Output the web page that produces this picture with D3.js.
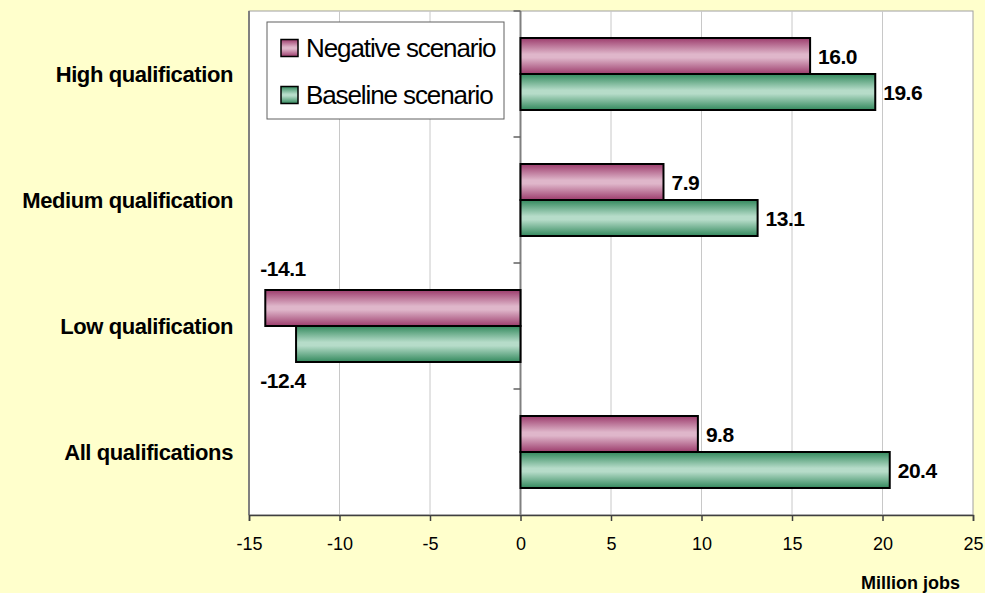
<!DOCTYPE html>
<html>
<head>
<meta charset="utf-8">
<script src="https://cdn.jsdelivr.net/npm/d3@7"></script>
<style>
  body { margin: 0; background: #ffffcc; }
  svg { display: block; font-family: 'Liberation Sans', Arial, sans-serif; }
</style>
</head>
<body>
<div id="chart"></div>
<script>
const categories = ['High qualification', 'Medium qualification', 'Low qualification', 'All qualifications'];
const seriesNames = ['Negative scenario', 'Baseline scenario'];
const negativeValues = [16.0, 7.9, -14.1, 9.8];
const baselineValues = [19.6, 13.1, -12.4, 20.4];
const xTicks = [-15, -10, -5, 0, 5, 10, 15, 20, 25];

const W = 985;
const H = 593;

const svg = d3.select('#chart')
  .append('svg')
  .attr('width', W)
  .attr('height', H);

svg.append('rect')
  .attr('width', W)
  .attr('height', H)
  .attr('fill', '#ffffcc');

const defs = svg.append('defs');

function addGradient(id, edge, mid) {
  const g = defs.append('linearGradient')
    .attr('id', id)
    .attr('x1', 0).attr('y1', 0)
    .attr('x2', 0).attr('y2', 1);
  g.append('stop').attr('offset', '0%').attr('stop-color', edge);
  g.append('stop').attr('offset', '45%').attr('stop-color', mid);
  g.append('stop').attr('offset', '55%').attr('stop-color', mid);
  g.append('stop').attr('offset', '100%').attr('stop-color', edge);
}
addGradient('gradNeg', '#9c3c6c', '#dfb6ca');
addGradient('gradBase', '#33895d', '#b6dcc9');

const colors = { 'Negative scenario': 'url(#gradNeg)', 'Baseline scenario': 'url(#gradBase)' };

// hyphen-minus like the original
const fmt1 = (v) => v.toFixed(1);

const x = d3.scaleLinear()
  .domain([-15, 25])
  .range([249, 973]);

const y = d3.scaleBand()
  .domain(categories)
  .range([11, 515]);

const ySub = d3.scaleBand()
  .domain(seriesNames)
  .range([0, y.bandwidth()])
  .paddingInner(0)
  .paddingOuter(0.75);

// plot area
svg.append('rect')
  .attr('x', x.range()[0])
  .attr('y', y.range()[0])
  .attr('width', x.range()[1] - x.range()[0])
  .attr('height', y.range()[1] - y.range()[0])
  .attr('fill', '#ffffff')
  .attr('stroke', '#a0a0a0')
  .attr('stroke-width', 1);

// gridlines
svg.append('g')
  .selectAll('line')
  .data(xTicks.filter((d) => d !== 0 && d !== -15 && d !== 25))
  .join('line')
  .attr('x1', (d) => x(d))
  .attr('x2', (d) => x(d))
  .attr('y1', y.range()[0])
  .attr('y2', y.range()[1])
  .attr('stroke', '#c8c8c8')
  .attr('stroke-width', 1);

// left border
svg.append('line')
  .attr('x1', x.range()[0]).attr('x2', x.range()[0])
  .attr('y1', y.range()[0]).attr('y2', y.range()[1])
  .attr('stroke', '#808080')
  .attr('stroke-width', 2);

// bottom axis
const xAxis = svg.append('g')
  .attr('transform', `translate(0,${y.range()[1]})`)
  .call(d3.axisBottom(x).tickValues(xTicks).tickSize(6).tickPadding(16).tickFormat((d) => String(d)));
xAxis.select('.domain').attr('stroke', '#404040').attr('stroke-width', 1.5);
xAxis.selectAll('.tick line').attr('stroke', '#404040').attr('stroke-width', 1.5);
xAxis.selectAll('.tick text')
  .attr('font-size', 18)
  .attr('fill', '#000')
  .attr('font-family', "'Liberation Sans', Arial, sans-serif");

// zero axis with category ticks
svg.append('line')
  .attr('x1', x(0)).attr('x2', x(0))
  .attr('y1', y.range()[0]).attr('y2', y.range()[1])
  .attr('stroke', '#808080')
  .attr('stroke-width', 2);
svg.append('g')
  .selectAll('line')
  .data(categories)
  .join('line')
  .attr('x1', x(0) - 7)
  .attr('x2', x(0))
  .attr('y1', (d) => y(d))
  .attr('y2', (d) => y(d))
  .attr('stroke', '#606060')
  .attr('stroke-width', 1.5);

// bars
const rows = categories.map((c, i) => ({
  cat: c,
  vals: [
    { s: seriesNames[0], v: negativeValues[i] },
    { s: seriesNames[1], v: baselineValues[i] },
  ],
}));

const groups = svg.append('g')
  .selectAll('g')
  .data(rows)
  .join('g')
  .attr('transform', (d) => `translate(0,${y(d.cat)})`);

groups.selectAll('rect')
  .data((d) => d.vals)
  .join('rect')
  .attr('x', (d) => x(Math.min(0, d.v)))
  .attr('y', (d) => ySub(d.s))
  .attr('width', (d) => Math.abs(x(d.v) - x(0)))
  .attr('height', ySub.bandwidth())
  .attr('fill', (d) => colors[d.s])
  .attr('stroke', '#000')
  .attr('stroke-width', 2);

groups.selectAll('text')
  .data((d) => d.vals)
  .join('text')
  .attr('x', (d) => (d.v >= 0 ? x(d.v) + 8 : x.range()[0] + 34))
  .attr('y', (d) => {
    if (d.v >= 0) return ySub(d.s) + ySub.bandwidth() / 2;
    return d.s === seriesNames[0] ? ySub(d.s) - 22 : ySub(d.s) + ySub.bandwidth() + 18;
  })
  .attr('dy', '0.36em')
  .attr('text-anchor', (d) => (d.v >= 0 ? 'start' : 'middle'))
  .attr('font-size', 21)
  .attr('font-weight', 'bold')
  .attr('letter-spacing', '-0.5px')
  .text((d) => fmt1(d.v));

// category labels
svg.append('g')
  .selectAll('text')
  .data(categories)
  .join('text')
  .attr('x', 233)
  .attr('y', (d) => y(d) + y.bandwidth() / 2)
  .attr('dy', '0.36em')
  .attr('text-anchor', 'end')
  .attr('font-size', 22)
  .attr('font-weight', 'bold')
  .attr('letter-spacing', '-0.4px')
  .text((d) => d);

// axis title
svg.append('text')
  .attr('x', 960)
  .attr('y', 583)
  .attr('dy', '0.36em')
  .attr('text-anchor', 'end')
  .attr('font-size', 18)
  .attr('font-weight', 'bold')
  .text('Million jobs');

// legend
const legend = svg.append('g');
legend.append('rect')
  .attr('x', 267)
  .attr('y', 22)
  .attr('width', 237)
  .attr('height', 97)
  .attr('fill', '#ffffff')
  .attr('stroke', '#606060')
  .attr('stroke-width', 1);

const legendItems = legend.selectAll('g')
  .data(seriesNames)
  .join('g')
  .attr('transform', (d, i) => `translate(281,${48 + i * 47})`);

legendItems.append('rect')
  .attr('x', 0)
  .attr('y', -8.5)
  .attr('width', 17)
  .attr('height', 17)
  .attr('fill', (d) => colors[d])
  .attr('stroke', '#000')
  .attr('stroke-width', 1.5);

legendItems.append('text')
  .attr('x', 25)
  .attr('y', 0)
  .attr('dy', '0.36em')
  .attr('font-size', 26)
  .attr('letter-spacing', '-1.1px')
  .text((d) => d);
</script>
</body>
</html>
